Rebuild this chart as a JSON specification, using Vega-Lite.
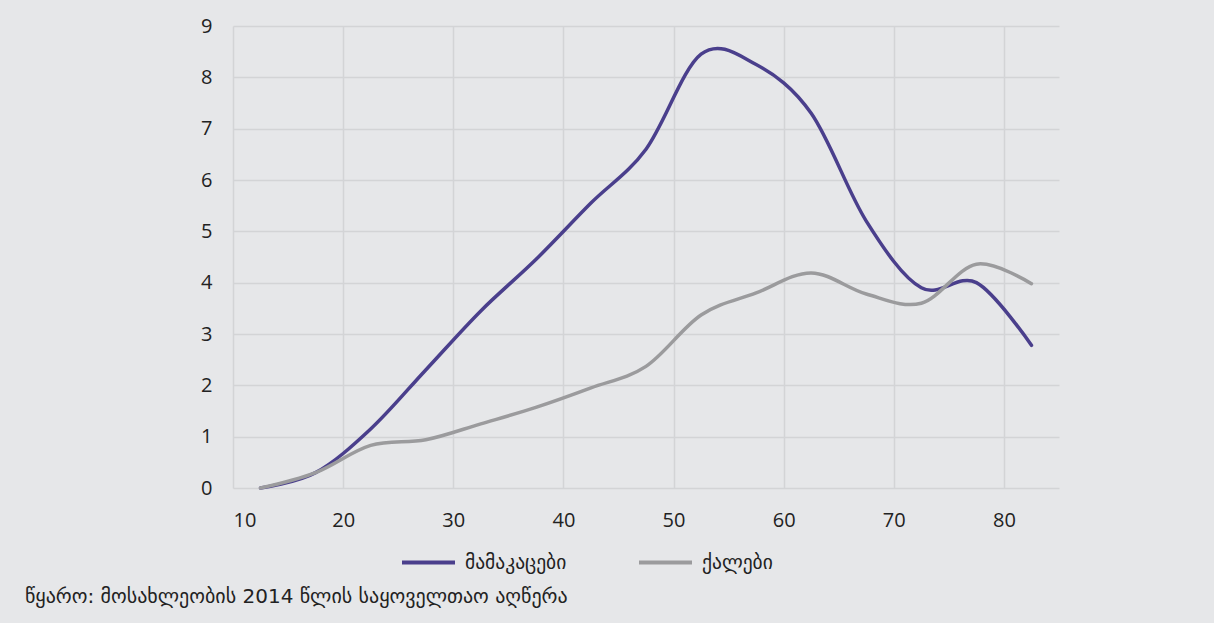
{
  "$schema": "https://vega.github.io/schema/vega-lite/v6.json",
  "autosize": "none",
  "width": 826,
  "height": 462,
  "padding": {"left": 233, "top": 26, "right": 155, "bottom": 135},
  "background": "#e6e7e9",
  "config": {
    "view": {"stroke": null},
    "font": "Open Sans"
  },
  "title": {
    "text": "წყარო: მოსახლეობის 2014 წლის საყოველთაო აღწერა",
    "orient": "bottom",
    "anchor": "start",
    "frame": "group",
    "dx": -208,
    "offset": 15,
    "fontSize": 20,
    "fontWeight": "normal",
    "color": "#222222",
    "font": "DejaVu Sans"
  },
  "data": {
    "values": [
      {"age": 12.5, "v": 0, "s": "მამაკაცები"},
      {"age": 17.5, "v": 0.3, "s": "მამაკაცები"},
      {"age": 22.5, "v": 1.15, "s": "მამაკაცები"},
      {"age": 27.5, "v": 2.3, "s": "მამაკაცები"},
      {"age": 32.5, "v": 3.45, "s": "მამაკაცები"},
      {"age": 37.5, "v": 4.45, "s": "მამაკაცები"},
      {"age": 42.5, "v": 5.55, "s": "მამაკაცები"},
      {"age": 47.5, "v": 6.6, "s": "მამაკაცები"},
      {"age": 52.5, "v": 8.45, "s": "მამაკაცები"},
      {"age": 57.5, "v": 8.25, "s": "მამაკაცები"},
      {"age": 62.5, "v": 7.3, "s": "მამაკაცები"},
      {"age": 67.5, "v": 5.2, "s": "მამაკაცები"},
      {"age": 72.5, "v": 3.9, "s": "მამაკაცები"},
      {"age": 77.5, "v": 4.0, "s": "მამაკაცები"},
      {"age": 82.5, "v": 2.78, "s": "მამაკაცები"},
      {"age": 12.5, "v": 0, "s": "ქალები"},
      {"age": 17.5, "v": 0.3, "s": "ქალები"},
      {"age": 22.5, "v": 0.83, "s": "ქალები"},
      {"age": 27.5, "v": 0.94, "s": "ქალები"},
      {"age": 32.5, "v": 1.25, "s": "ქალები"},
      {"age": 37.5, "v": 1.57, "s": "ქალები"},
      {"age": 42.5, "v": 1.95, "s": "ქალები"},
      {"age": 47.5, "v": 2.37, "s": "ქალები"},
      {"age": 52.5, "v": 3.37, "s": "ქალები"},
      {"age": 57.5, "v": 3.8, "s": "ქალები"},
      {"age": 62.5, "v": 4.19, "s": "ქალები"},
      {"age": 67.5, "v": 3.78, "s": "ქალები"},
      {"age": 72.5, "v": 3.6, "s": "ქალები"},
      {"age": 77.5, "v": 4.36, "s": "ქალები"},
      {"age": 82.5, "v": 3.98, "s": "ქალები"}
    ]
  },
  "mark": {"type": "line", "interpolate": "cardinal", "strokeWidth": 3.5, "strokeCap": "round"},
  "encoding": {
    "x": {
      "field": "age",
      "type": "quantitative",
      "scale": {"domain": [10, 85], "nice": false},
      "axis": {
        "title": null,
        "values": [10, 20, 30, 40, 50, 60, 70, 80],
        "domain": false,
        "ticks": false,
        "grid": true,
        "gridColor": "#d3d4d6",
        "gridWidth": 1.5,
        "labelFontSize": 20,
        "labelColor": "#222222",
        "labelPadding": 22,
        "labelFont": "Open Sans"
      }
    },
    "y": {
      "field": "v",
      "type": "quantitative",
      "scale": {"domain": [0, 9], "nice": false},
      "axis": {
        "title": null,
        "values": [0, 1, 2, 3, 4, 5, 6, 7, 8, 9],
        "domain": false,
        "ticks": false,
        "grid": true,
        "gridColor": "#d3d4d6",
        "gridWidth": 1.5,
        "labelFontSize": 20,
        "labelColor": "#222222",
        "labelPadding": 21,
        "labelFont": "Open Sans"
      }
    },
    "color": {
      "field": "s",
      "type": "nominal",
      "sort": ["მამაკაცები", "ქალები"],
      "scale": {"domain": ["მამაკაცები", "ქალები"], "range": ["#4a3f8c", "#9b9b9d"]},
      "legend": {
        "title": null,
        "orient": "none",
        "direction": "horizontal",
        "legendX": 167,
        "legendY": 508,
        "symbolType": "stroke",
        "symbolSize": 2809,
        "symbolStrokeWidth": 4,
        "labelFontSize": 19.5,
        "labelColor": "#222222",
        "labelFont": "DejaVu Sans",
        "labelOffset": 8,
        "columnPadding": 64
      }
    }
  }
}
